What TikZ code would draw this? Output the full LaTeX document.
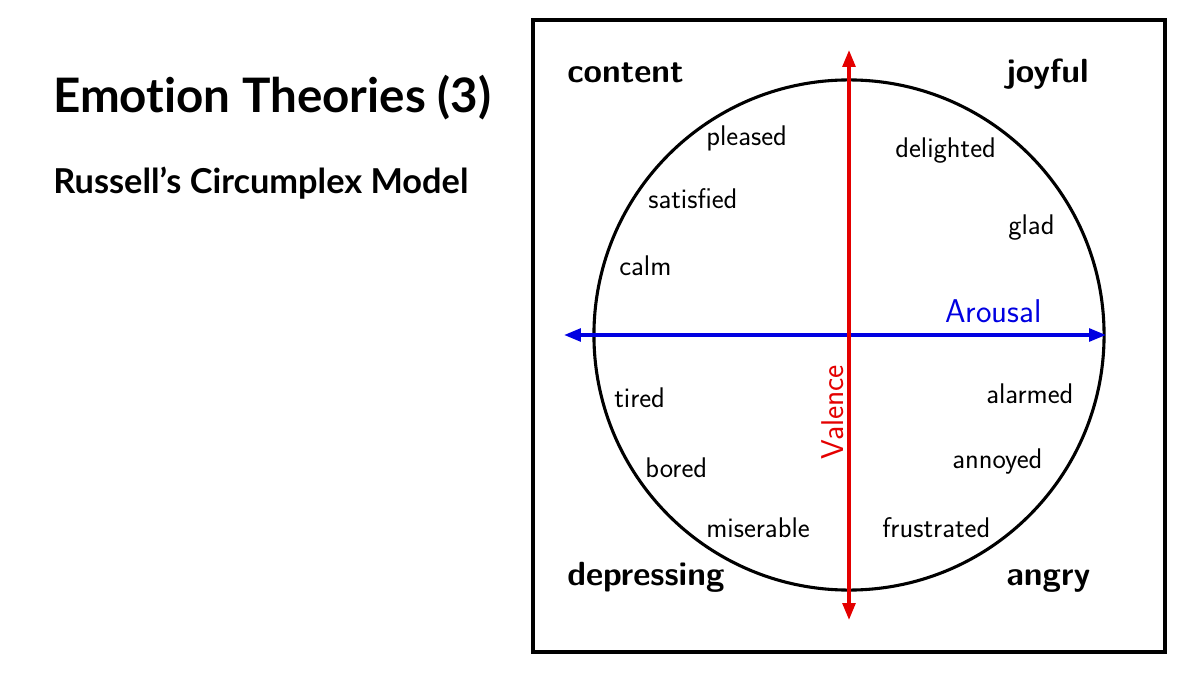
\documentclass[tikz,border=0pt]{standalone}
\usepackage{fontspec}
\newfontfamily\titlefont{Lato}[Ligatures={NoCommon,NoRare}]
\usetikzlibrary{arrows.meta}
\definecolor{axisred}{RGB}{228,0,0}
\definecolor{axisblue}{RGB}{0,0,225}

\begin{document}
\begin{tikzpicture}
  [x=0.025cm,y=-0.025cm,
   every node/.style={inner sep=0pt,anchor=base west},
   mood/.style={font=\sffamily\fontsize{20.2}{23}\selectfont},
   corner/.style={font=\sffamily\bfseries\fontsize{23.8}{28}\selectfont},
   axis/.style={line width=2.5pt,{Triangle[length=12pt,width=9pt]}-{Triangle[length=12pt,width=9pt]}}]
  \useasboundingbox (0,0) rectangle (1200,674);

  \node[font=\titlefont\bfseries\fontsize{33.8}{40}\selectfont] (title) at (53,113) {Emotion Theories (3)};
  \node[font=\titlefont\bfseries\fontsize{24.4}{29}\selectfont] (subtitle) at (53,194) {Russell’s Circumplex Model};

  \draw[line width=2.2pt] (533,20) rectangle (1165,652);
  \coordinate (hub) at (849,335);
  \draw[line width=2.2pt] (hub) circle (6.375cm);

  \coordinate (vtop) at (849,50);
  \coordinate (vbot) at (849,620);
  \coordinate (aleft) at (564,335);
  \coordinate (aright) at (1106,335);
  \draw[axis,axisblue] (aleft) -- (aright);
  \draw[axis,axisred] (vbot) -- (vtop);

  \node[corner] (content) at (567,83) {content};
  \node[corner] (joyful) at (1006,83) {joyful};
  \node[corner] (depressing) at (567,585) {depressing};
  \node[corner] (angry) at (1006,585) {angry};

  \node[mood] (pleased) at (706,146) {pleased};
  \node[mood] (delighted) at (895,158) {delighted};
  \node[mood] (satisfied) at (648,209) {satisfied};
  \node[mood] (glad) at (1008,235) {glad};
  \node[mood] (calm) at (619,276) {calm};
  \node[mood] (tired) at (614,407) {tired};
  \node[mood] (alarmed) at (986,403) {alarmed};
  \node[mood] (bored) at (645,477) {bored};
  \node[mood] (annoyed) at (952,468) {annoyed};
  \node[mood] (miserable) at (706,537) {miserable};
  \node[mood] (frustrated) at (882,537) {frustrated};

  \node[mood,font=\sffamily\fontsize{23.4}{27}\selectfont,text=axisblue] (arousal) at (945,323) {Arousal};
  \node[mood,font=\sffamily\fontsize{22.4}{26}\selectfont,text=axisred,rotate=90] (valence) at (843,460) {Valence};

\end{tikzpicture}
\end{document}
